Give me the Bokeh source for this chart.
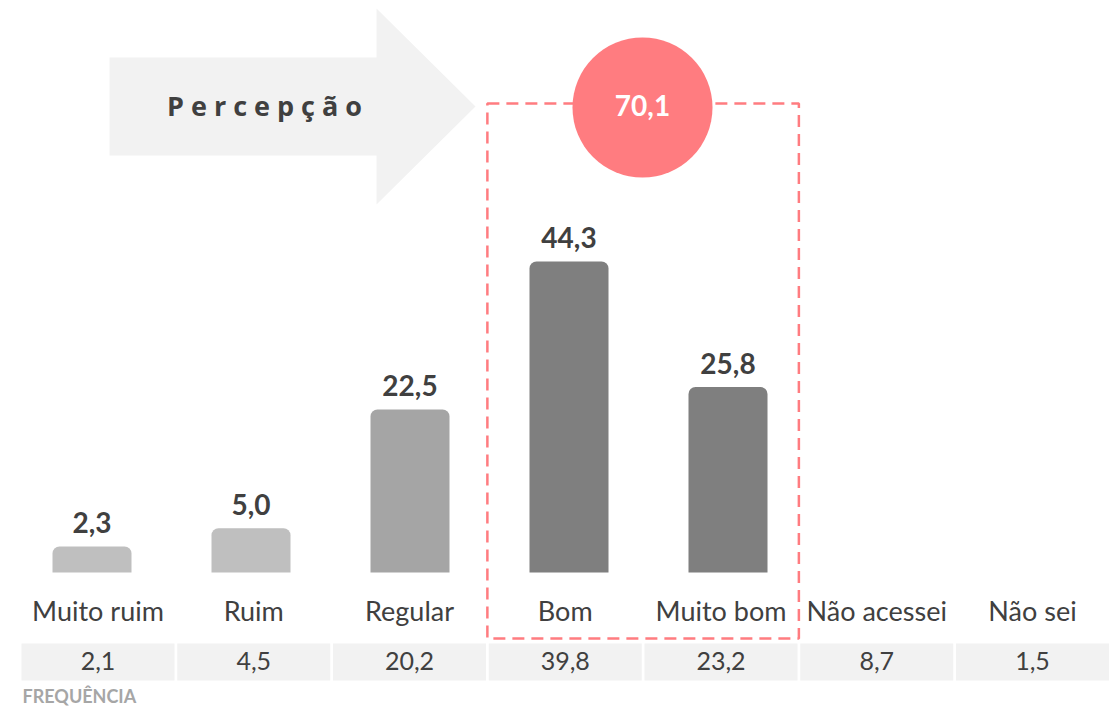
from bokeh.plotting import figure
from bokeh.models import Range1d, ColumnDataSource
from bokeh.core.properties import value
from bokeh.embed import file_html
from bokeh.resources import INLINE

# ---- data ----
categories = ["Muito ruim", "Ruim", "Regular", "Bom", "Muito bom", "Não acessei", "Não sei"]
percepcao_cats = ["Muito ruim", "Ruim", "Regular", "Bom", "Muito bom"]
percepcao = [2.3, 5.0, 22.5, 44.3, 25.8]
frequencia = [2.1, 4.5, 20.2, 39.8, 23.2, 8.7, 1.5]
destaque = ["Bom", "Muito bom"]
titulo = "Percepção"
rodape = "FREQUÊNCIA"

bar_colors = ["#bfbfbf", "#bfbfbf", "#a5a5a5", "#7f7f7f", "#7f7f7f"]
TXT = "#404040"
RED = "#ff7c80"
FONT = "Lato"


def fmt(v):
    return f"{v:.1f}".replace(".", ",")


W, H = 1109, 706
STEP = 155.75      # px per category (label / table grid)
BAR_STEP = 159.0   # px between bar centres
BAR0 = 91.5        # px of first bar centre
PXU = 6.786        # px per percentage point


# layout helpers (page pixel -> data space)
def X(px):
    return (px - 97.5) / STEP


def Y(py):
    return (561.6 - py) / PXU


p = figure(width=W, height=H,
           x_range=Range1d(X(0), X(W)),
           y_range=Range1d(Y(H), Y(0)),
           output_backend="svg", toolbar_location=None,
           x_axis_type=None, y_axis_type=None,
           min_border=0, min_border_left=0, min_border_right=0,
           min_border_top=0, min_border_bottom=0)
p.grid.visible = False
p.outline_line_color = None
p.background_fill_color = "white"
p.border_fill_color = "white"

idx = {c: i for i, c in enumerate(categories)}

# ---- arrow ----
ax = [109, 376, 376, 475, 376, 376, 109]
ay = [57, 57, 8, 106, 204, 155, 155]
p.patch([X(v) for v in ax], [Y(v) for v in ay], fill_color="#f2f2f2", line_color=None)
p.text(x=[X(264)], y=[Y(105)], text=[" ".join(titulo)],
       text_font=value("Open Sans"), text_font_size="27px", text_font_style="bold",
       text_color=TXT, text_align="center", text_baseline="middle")

# ---- highlight box ----
i0 = min(idx[c] for c in destaque)
i1 = max(idx[c] for c in destaque)
p.quad(left=[i0 - 0.5], right=[i1 + 0.5], top=[Y(103)], bottom=[Y(638)],
       fill_color=None, line_color=RED, line_width=2.5, line_dash="12 7")

# ---- bars ----
bx = [X(BAR0 + BAR_STEP * idx[c]) for c in percepcao_cats]
src = ColumnDataSource(dict(x=bx, top=percepcao, color=bar_colors,
                            label=[fmt(v) for v in percepcao]))
p.vbar(x="x", top="top", bottom=Y(572), width=79 / STEP, fill_color="color",
       line_color=None, source=src, border_radius=(7, 7, 0, 0))
p.text(x="x", y="top", text="label", source=src, y_offset=-24,
       text_font=value(FONT), text_font_size="28px", text_font_style="bold",
       text_color=TXT, text_align="center", text_baseline="middle")

# ---- circle with total ----
total = sum(v for c, v in zip(percepcao_cats, percepcao) if c in destaque)
p.scatter(x=[X(642)], y=[Y(107)], size=140, marker="circle",
          fill_color=RED, line_color=None)
p.text(x=[X(642)], y=[Y(105)], text=[fmt(total)],
       text_font=value(FONT), text_font_size="28px", text_font_style="bold",
       text_color="white", text_align="center", text_baseline="middle")

# ---- category labels ----
p.text(x=list(range(len(categories))), y=[Y(610)] * len(categories), text=categories,
       text_font=value(FONT), text_font_size="27px",
       text_color=TXT, text_align="center", text_baseline="middle")

# ---- frequency row ----
fx = list(range(len(categories)))
p.rect(x=fx, y=[Y(661.5)] * len(fx), width=153 / STEP, height=37 / PXU,
       fill_color="#f2f2f2", line_color=None)
p.text(x=fx, y=[Y(660)] * len(fx), text=[fmt(v) for v in frequencia],
       text_font=value(FONT), text_font_size="25px",
       text_color=TXT, text_align="center", text_baseline="middle")
p.text(x=[X(22)], y=[Y(695)], text=[rodape],
       text_font=value(FONT), text_font_size="18px", text_font_style="bold",
       text_color="#a6a6a6", text_align="left", text_baseline="middle")

open("out.html", "w").write(file_html(p, INLINE))
